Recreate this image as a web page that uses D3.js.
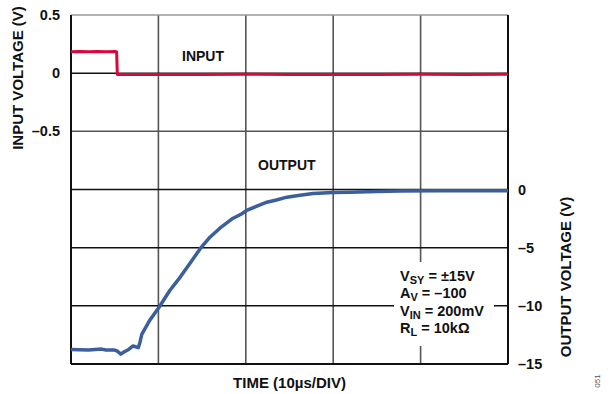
<!DOCTYPE html>
<html><head><meta charset="utf-8">
<script src="https://cdn.jsdelivr.net/npm/d3@7"></script>
<style>body{margin:0;background:#fff}svg{display:block;font-family:"Liberation Sans",Arial,sans-serif}</style>
</head><body><svg id="c" width="611" height="394"></svg>
<script>
const timeTicks = [0,10,20,30,40,50];
const inputTicks = [0.5,0,-0.5];
const outputTicks = [0,-5,-10,-15];
const inputGrid = [0.5,0,-0.5,-1,-1.5,-2,-2.5];
const inputT = [0,1,2,3,4,5,5.22,5.3,10,15,20,25,30,35,40,45,50];
const inputV = [0.185,0.187,0.184,0.186,0.185,0.186,0.185,-0.012,-0.011,-0.012,-0.01,-0.011,-0.012,-0.011,-0.01,-0.011,-0.01];
const outT = [0,2,3.5,4,5.0,5.3,5.7,6.1,6.6,7.1,7.7,7.9,8.1,9.0,10.1,11.3,12.5,13.6,14.8,15.9,17.0,18.5,19.5,20.1,21.2,22.4,23.5,24.7,26.2,27.7,30,31.9,35,37.6,42,46,50];
const outV = [-13.75,-13.8,-13.72,-13.8,-13.8,-13.9,-14.15,-13.95,-13.75,-13.45,-13.6,-13.1,-12.45,-11.25,-10.1,-8.68,-7.53,-6.36,-5.07,-4.1,-3.35,-2.49,-2.1,-1.8,-1.45,-1.09,-0.9,-0.66,-0.5,-0.34,-0.26,-0.23,-0.17,-0.13,-0.11,-0.1,-0.1];
const notes = [["V","SY"," = ±15V"],["A","V"," = –100"],["V","IN"," = 200mV"],["R","L"," = 10kΩ"]];

const svg = d3.select("#c");
const x = d3.scaleLinear([0,50],[71,508]);
const yIn = d3.scaleLinear([-2.5,0.5],[364,15]);
const yOut = d3.scaleLinear([-15,15],[364,15]);
const fmt = v => v<0 ? "–"+Math.abs(v) : String(v);

// grid
svg.append("g").selectAll("line").data(timeTicks.slice(1,-1)).join("line")
  .attr("x1",d=>x(d)).attr("x2",d=>x(d)).attr("y1",15).attr("y2",364)
  .attr("stroke","#555").attr("stroke-width",1.6);
svg.append("g").selectAll("line").data(inputGrid.slice(1,-1)).join("line")
  .attr("x1",71).attr("x2",508).attr("y1",d=>yIn(d)).attr("y2",d=>yIn(d))
  .attr("stroke",d=>d===-0.5?"#555":"#111").attr("stroke-width",1.5);
// frame
svg.append("line").attr("x1",71).attr("x2",508).attr("y1",15).attr("y2",15).attr("stroke","#999").attr("stroke-width",1.5);
svg.append("line").attr("x1",71).attr("x2",508).attr("y1",364).attr("y2",364).attr("stroke","#111").attr("stroke-width",2);
svg.append("line").attr("x1",71).attr("x2",71).attr("y1",15).attr("y2",364).attr("stroke","#111").attr("stroke-width",2);
svg.append("line").attr("x1",508).attr("x2",508).attr("y1",15).attr("y2",364).attr("stroke","#111").attr("stroke-width",2);

// axes
const la = svg.append("g").attr("transform","translate(71,0)")
  .call(d3.axisLeft(yIn).tickValues(inputTicks).tickSize(0).tickPadding(11).tickFormat(fmt));
la.select(".domain").remove();
const ra = svg.append("g").attr("transform","translate(508,0)")
  .call(d3.axisRight(yOut).tickValues(outputTicks).tickSize(0).tickPadding(10).tickFormat(fmt));
ra.select(".domain").remove();
svg.selectAll(".tick text").attr("font-size",14.5).attr("font-weight","bold").attr("fill","#111")
  .attr("font-family","Liberation Sans, Arial, sans-serif");

// annotation box
svg.append("rect").attr("x",394).attr("y",262).attr("width",100).attr("height",84).attr("fill","#fff");
const nt = svg.append("g").attr("font-size",14.5).attr("font-weight","bold").attr("fill","#111");
notes.forEach((n,i)=>{
  const t = nt.append("text").attr("x",400).attr("y",281+i*17.3);
  t.append("tspan").text(n[0]);
  t.append("tspan").attr("font-size",11).attr("dy",3).text(n[1]);
  t.append("tspan").attr("dy",-3).text(n[2]);
});

// traces
const lineIn = d3.line().x((d,i)=>x(inputT[i])).y(d=>yIn(d));
svg.append("path").attr("d",lineIn(inputV)).attr("fill","none").attr("stroke","#d9083c").attr("stroke-width",3).attr("stroke-linejoin","round");
const lineOut = d3.line().x((d,i)=>x(outT[i])).y(d=>yOut(d));
svg.append("path").attr("d",lineOut(outV)).attr("fill","none").attr("stroke","#3a5f9c").attr("stroke-width",3.5).attr("stroke-linejoin","round");

// labels
const lab = (txt,xx,yy,size,rot,anchor)=>svg.append("text").attr("x",xx).attr("y",yy)
  .attr("font-size",size).attr("font-weight","bold").attr("fill","#111").attr("text-anchor",anchor||"start")
  .attr("transform",rot?`rotate(${rot},${xx},${yy})`:null).text(txt);
lab("INPUT",182,61,14);
lab("OUTPUT",258,170,14);
lab("TIME (10µs/DIV)",289.5,388,15,0,"middle");
lab("INPUT VOLTAGE (V)",23,78,15,-90,"middle");
lab("OUTPUT VOLTAGE (V)",571,277,15,-90,"middle");
svg.append("text").attr("x",600).attr("y",381).attr("font-size",8).attr("fill","#555")
  .attr("text-anchor","middle").attr("transform","rotate(-90,600,381)").text("051");
</script></body></html>
